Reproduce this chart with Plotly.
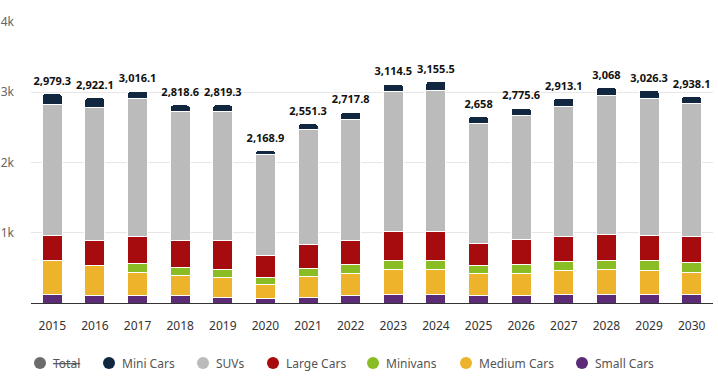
import plotly.graph_objects as go

years = [str(y) for y in range(2015, 2031)]
small_cars = [123, 109, 100, 100, 85, 66, 85, 100, 114, 114, 100, 100, 114, 114, 114, 114]
medium_cars = [489, 418, 337, 294, 285, 204, 299, 327, 356, 356, 313, 327, 342, 356, 342, 327]
minivans = [0, 0, 132, 118, 114, 86, 105, 114, 142, 142, 114, 128, 128, 142, 142, 133]
large_cars = [356, 356, 371, 371, 399, 327, 337, 342, 399, 399, 327, 342, 356, 370, 370, 366]
suvs = [1851, 1907, 1964, 1850, 1850, 1424, 1637, 1736, 1993, 2021, 1708, 1779, 1864, 1965, 1936, 1893]
totals = [2979.3, 2922.1, 3016.1, 2818.6, 2819.3, 2168.9, 2551.3, 2717.8, 3114.5, 3155.5,
          2658, 2775.6, 2913.1, 3068, 3026.3, 2938.1]
mini_cars = [round(t - s - m - v - l - u, 1) for t, s, m, v, l, u in
             zip(totals, small_cars, medium_cars, minivans, large_cars, suvs)]

total_labels = [f"{int(t):,}" if t == int(t) else f"{t:,.1f}" for t in totals]

series = [
    ("Small Cars", small_cars, "#5c2b78"),
    ("Medium Cars", medium_cars, "#edb32a"),
    ("Minivans", minivans, "#8abd24"),
    ("Large Cars", large_cars, "#a60c0d"),
    ("SUVs", suvs, "#bbbbbb"),
    ("Mini Cars", mini_cars, "#10273f"),
]
legend_names = ["Total", "Mini Cars", "SUVs", "Large Cars", "Minivans", "Medium Cars", "Small Cars"]
legend_colors = ["#6b6b6b", "#10273f", "#bbbbbb", "#a60c0d", "#8abd24", "#edb32a", "#5c2b78"]

W, H = 718, 383
ML, MR, MT, MB = 31, 5, 22, 80
PW, PH = W - ML - MR, H - MT - MB

def px_x(px):
    return (px - ML) / PW

def px_y(py):
    return (H - MB - py) / PH

font = "Noto Sans"
fig = go.Figure()
for name, vals, col in series:
    fig.add_trace(go.Bar(
        x=years, y=vals, name=name, marker=dict(color=col, line=dict(color="white", width=1)),
        showlegend=False, hovertemplate=name + ": %{y}<extra></extra>"))

# total labels above the stacks
fig.add_trace(go.Scatter(
    x=years, y=totals, mode="markers+text", text=total_labels, textposition="top center",
    marker=dict(size=8, opacity=0),
    textfont=dict(family=font, size=11, color="#111111", weight="bold"),
    showlegend=False, hoverinfo="skip", cliponaxis=False))

# legend drawn as circles + text
legend_circle_x = [40, 109, 203, 273, 373, 466, 582]
legend_y = 363
shapes = []
annotations = []
for name, col, cx in zip(legend_names, legend_colors, legend_circle_x):
    shapes.append(dict(type="circle", xref="paper", yref="paper",
                       xsizemode="pixel", ysizemode="pixel",
                       xanchor=px_x(cx), yanchor=px_y(legend_y),
                       x0=-6, x1=6, y0=-6, y1=6,
                       fillcolor=col, line=dict(width=0)))
    label = "<span style='text-decoration:line-through'>Total</span>" if name == "Total" else name
    annotations.append(dict(text=label, xref="paper", yref="paper",
                            x=px_x(cx + 11), y=px_y(legend_y), xanchor="left", yanchor="middle",
                            showarrow=False, font=dict(family=font, size=12, color="#555555")))

fig.update_layout(
    width=W, height=H,
    margin=dict(l=ML, r=MR, t=MT, b=MB),
    barmode="stack", bargap=0.53, barcornerradius=3,
    plot_bgcolor="white", paper_bgcolor="white",
    font=dict(family=font, size=12, color="#333333"),
    showlegend=False,
    shapes=shapes, annotations=annotations,
    xaxis=dict(type="category", range=[-0.5, len(years) - 0.5], showline=True,
               linecolor="#333333", linewidth=1,
               ticks="", tickfont=dict(size=12, color="#333333"), ticklabelstandoff=12,
               showgrid=False, automargin=False),
    yaxis=dict(range=[0, 4000], tickvals=[1000, 2000, 3000, 4000],
               ticktext=["1k", "2k", "3k", "4k"], showgrid=True, gridcolor="#e6e6e6",
               zeroline=False, tickfont=dict(size=12, color="#666666"), ticklabelstandoff=16,
               showline=False, automargin=False),
)

fig.write_html("out.html", config={"displayModeBar": False},
               post_script="document.body.style.margin='0';document.body.style.overflow='hidden';")
